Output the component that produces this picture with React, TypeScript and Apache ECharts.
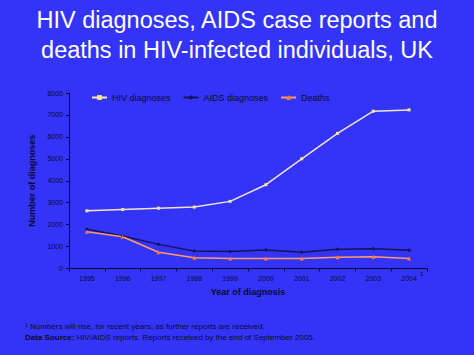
import React, { useEffect, useRef } from "react";
import * as echarts from "echarts";

const years = ["1995", "1996", "1997", "1998", "1999", "2000", "2001", "2002", "2003", "2004"];
const hivDiagnoses = [2630, 2690, 2750, 2800, 3060, 3820, 5000, 6160, 7170, 7230];
const aidsDiagnoses = [1790, 1480, 1100, 800, 780, 845, 740, 875, 905, 830];
const deaths = [1680, 1450, 740, 490, 460, 460, 460, 510, 540, 460];
const yTicks = { min: 0, max: 8000, interval: 1000 };

const TXT = "#0a0a30";
const FONT = "Liberation Sans, Arial, sans-serif";

export default function App() {
  const ref = useRef<HTMLDivElement>(null);
  useEffect(() => {
    if (!ref.current) return;
    const chart = echarts.init(ref.current, undefined, { renderer: "svg" });
    chart.setOption({
      animation: false,
      backgroundColor: "#3434f8",
      textStyle: { fontFamily: FONT },
      title: {
        text: "HIV diagnoses, AIDS case reports and\ndeaths in HIV-infected individuals, UK",
        left: "center",
        top: 0,
        textStyle: { color: "#ffffff", fontSize: 23.5, fontWeight: "normal", lineHeight: 30, fontFamily: FONT },
      },
      legend: {
        left: 86,
        top: 88,
        itemWidth: 15,
        itemHeight: 6,
        itemGap: 12,
        textStyle: { color: TXT, fontSize: 9, fontFamily: FONT },
        data: ["HIV diagnoses", "AIDS diagnoses", "Deaths"],
      },
      grid: { left: 69, right: 47, top: 93, bottom: 86.5, containLabel: false },
      xAxis: {
        type: "category",
        data: years,
        boundaryGap: true,
        name: "Year of diagnosis",
        nameLocation: "middle",
        nameGap: 19,
        nameTextStyle: { color: TXT, fontSize: 9, fontWeight: "bold" },
        axisLine: { lineStyle: { color: TXT, width: 1 } },
        axisTick: { show: true, length: 3, lineStyle: { color: TXT } },
        axisLabel: { color: TXT, fontSize: 7, margin: 6 },
      },
      yAxis: {
        type: "value",
        min: yTicks.min,
        max: yTicks.max,
        interval: yTicks.interval,
        name: "Number of diagnoses",
        nameLocation: "middle",
        nameGap: 25,
        nameTextStyle: { color: TXT, fontSize: 9, fontWeight: "bold" },
        axisLine: { show: true, lineStyle: { color: TXT, width: 1 } },
        axisTick: { show: true, length: 3, lineStyle: { color: TXT } },
        axisLabel: { color: TXT, fontSize: 7, margin: 6, formatter: (v: number) => String(v) },
        splitLine: { show: false },
      },
      series: [
        {
          name: "HIV diagnoses",
          type: "line",
          data: hivDiagnoses,
          symbol: "rect",
          symbolSize: 3,
          lineStyle: { color: "#f1e4d4", width: 1.5 },
          itemStyle: { color: "#ffe680" },
        },
        {
          name: "AIDS diagnoses",
          type: "line",
          data: aidsDiagnoses,
          symbol: "diamond",
          symbolSize: 4,
          lineStyle: { color: "#14145a", width: 1.5 },
          itemStyle: { color: "#14145a" },
        },
        {
          name: "Deaths",
          type: "line",
          data: deaths,
          symbol: "triangle",
          symbolSize: 4,
          lineStyle: { color: "#ff9a66", width: 1.5 },
          itemStyle: { color: "#ff7a3a" },
        },
      ],
      graphic: [
        {
          type: "text",
          left: 420,
          top: 271,
          style: { text: "1", fill: TXT, fontSize: 6, fontFamily: FONT },
        },
        {
          type: "text",
          left: 25,
          top: 322,
          style: {
            text: "{sup|1} Numbers will rise, for recent years, as further reports are received.",
            fill: TXT,
            fontSize: 8,
            fontFamily: FONT,
            rich: { sup: { fontSize: 5, fill: TXT, verticalAlign: "top" } },
          },
        },
        {
          type: "text",
          left: 25,
          top: 333,
          style: {
            text: "{b|Data Source:} HIV/AIDS reports. Reports received by the end of September 2005.",
            fill: TXT,
            fontSize: 8,
            fontFamily: FONT,
            rich: { b: { fontWeight: "bold", fontSize: 8, fill: TXT } },
          },
        },
      ],
    });
    return () => chart.dispose();
  }, []);
  return (
    <div
      ref={ref}
      style={{ position: "fixed", left: 0, top: 0, width: 474, height: 355 }}
    />
  );
}
